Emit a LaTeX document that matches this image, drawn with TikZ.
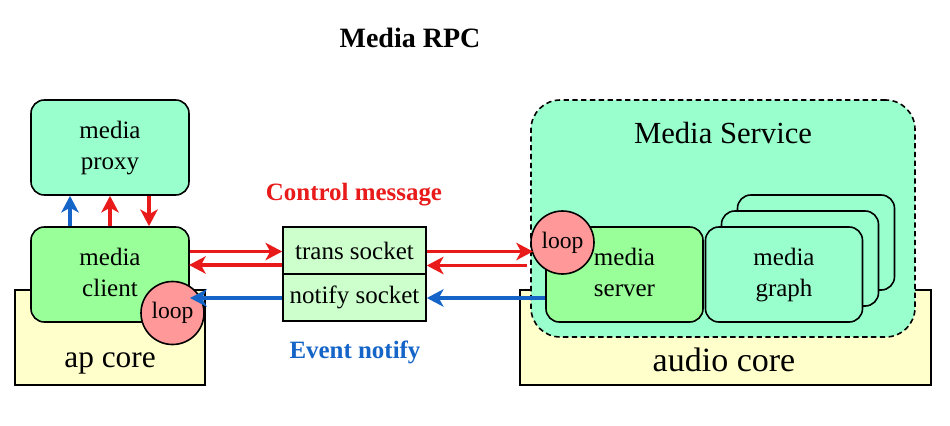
\documentclass[tikz,border=0pt]{standalone}
\usepackage{fontspec}
\setmainfont{Liberation Serif}
\usetikzlibrary{arrows.meta}
\definecolor{mint}{HTML}{99FFCC}
\definecolor{lgreen}{HTML}{99FF99}
\definecolor{sockgreen}{HTML}{CCFFCC}
\definecolor{lyellow}{HTML}{FFFFCC}
\definecolor{looppink}{HTML}{FF9999}
\definecolor{arrred}{HTML}{E81A1A}
\definecolor{arrblue}{HTML}{1565C8}
\newcommand\bxstrut{\rule[-4.5pt]{0pt}{18pt}}
\newcommand\twoline[2]{\bxstrut #1\\\bxstrut #2}
\tikzset{
  box/.style={draw, line width=1.2pt, rounded corners=10pt, inner sep=0pt, align=center,
    minimum width=118.5pt, minimum height=71.25pt, font=\fontsize{18.75}{23.25}\selectfont},
  core/.style={draw, line width=1.2pt, fill=lyellow, inner sep=0pt, minimum height=71.25pt},
  sock/.style={draw, line width=1.2pt, fill=sockgreen, inner sep=0pt,
    minimum width=107.25pt, minimum height=35.25pt, font=\fontsize{18.75}{22}\selectfont},
  loopc/.style={circle, draw, line width=1.2pt, fill=looppink, inner sep=0pt,
    minimum size=47.25pt, font=\fontsize{17.7}{20}\selectfont},
  lbl/.style={inner sep=0pt},
  redarr/.style={draw=arrred, line width=2.3pt, -{Stealth[length=12.5pt,width=13pt,inset=3.5pt]}},
  bluearr/.style={draw=arrblue, line width=2.3pt, -{Stealth[length=12.5pt,width=13pt,inset=3.5pt]}},
}
\begin{document}
\begin{tikzpicture}[x=0.75pt, y=-0.75pt]
\useasboundingbox[fill=white] (0,0) rectangle (950,425);
% title
\node[lbl, font=\bfseries\fontsize{21}{24}\selectfont] (title) at (410,38) {Media RPC};
% cores
\node[core, minimum width=142.5pt] (apcore) at (110,337.5) {};
\node[core, minimum width=308.25pt] (audiocore) at (725.5,337.5) {};
\node[lbl, font=\fontsize{23.5}{26}\selectfont] (aptext) at (110,363) {ap core};
\node[lbl, font=\fontsize{25.5}{28}\selectfont] (audiotext) at (724,360) {audio core};
% media service
\node[draw, line width=1.2pt, dash pattern=on 4pt off 2.6pt, rounded corners=22pt, fill=mint,
  minimum width=288pt, minimum height=177.75pt, inner sep=0pt] (service) at (723,218.5) {};
\node[lbl, font=\fontsize{23}{26}\selectfont] (servicetext) at (723,133) {Media Service};
% left boxes
\node[box, fill=mint] (proxy) at (110,147.5) {\twoline{media}{proxy}};
\node[box, fill=lgreen] (client) at (110,274.5) {\twoline{media}{client}};
% sockets
\node[sock] (trans) at (354.5,250.5) {trans socket};
\node[sock] (notify) at (354.5,297.5) {notify socket};
% right boxes
\node[box, fill=mint, minimum width=117.75pt] (graph3) at (816,242.5) {};
\node[box, fill=mint, minimum width=117.75pt] (graph2) at (800,258.5) {};
\node[box, fill=lgreen, minimum width=117.75pt] (server) at (624.5,274.5) {\twoline{media}{server}};
\node[box, fill=mint, minimum width=117.75pt] (graph) at (784,274.5) {\twoline{media}{graph}};
% loops
\node[loopc] (loopL) at (172.5,313) {loop};
\node[loopc] (loopR) at (562.5,242.5) {loop};
% labels
\node[lbl, text=arrred, font=\bfseries\fontsize{18.7}{22}\selectfont] (ctrl) at (354,195) {Control message};
\node[lbl, text=arrblue, font=\bfseries\fontsize{18.7}{22}\selectfont] (event) at (355,352) {Event notify};
% coordinates
\coordinate (tipL) at (190,298);
\coordinate (tipLr) at (189,265);
\coordinate (startR) at (527,265.5);
\coordinate (tipR) at (533,251.5);
% client <-> proxy
\draw[bluearr] (client.north -| 70,0) -- (proxy.south -| 70,0);
\draw[redarr] (client.north -| 110,0) -- (proxy.south -| 110,0);
\draw[redarr] (proxy.south -| 149,0) -- (client.north -| 149,0);
% client <-> trans
\draw[redarr] (client.east |- 0,251.5) -- (trans.west |- 0,251.5);
\draw[redarr] (trans.west |- tipLr) -- (tipLr);
\draw[bluearr] (notify.west |- tipL) -- (tipL);
% trans <-> server
\draw[redarr] (trans.east |- tipR) -- (tipR);
\draw[redarr] (startR) -- (trans.east |- startR);
\draw[bluearr] (server.west |- 0,298) -- (notify.east |- 0,298);
\end{tikzpicture}
\end{document}
